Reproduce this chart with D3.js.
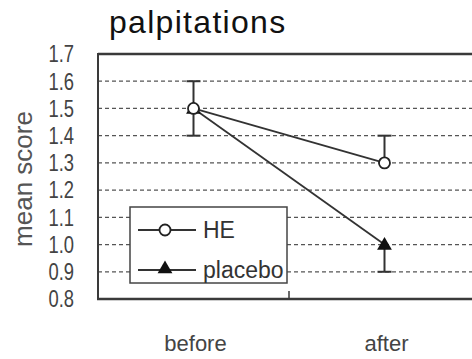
<!DOCTYPE html>
<html lang="en">
<head>
    <meta charset="UTF-8">
    <title>palpitations</title>
    <script src="https://d3js.org/d3.v7.min.js"></script>
    <style>
        body { margin: 0; background: #fff; }
        svg { display: block; }
        .grid line { stroke: #555; stroke-width: 1.3px; stroke-dasharray: 4,3; }
        .frame { stroke: #3a3a3a; fill: none; }
        .tick-label { font-family: "Liberation Sans", Arial, sans-serif; font-size: 23px; fill: #444; }
        .cat-label { font-family: "Liberation Sans", Arial, sans-serif; font-size: 22px; fill: #444; }
    </style>
</head>
<body>
<svg></svg>
<script>
    // data
    const categories = ["before", "after"];
    const heMean = [1.5, 1.3];
    const heErr = [0.1, 0.1];          // drawn upward
    const placeboMean = [1.5, 1.0];
    const placeboErr = [0.1, 0.1];     // drawn downward
    const yTicks = [0.8, 0.9, 1.0, 1.1, 1.2, 1.3, 1.4, 1.5, 1.6, 1.7];
    const legendNames = ["HE", "placebo"];

    const W = 472, H = 359;
    const plotL = 98, plotT = 54, plotB = 299, plotR = 480;

    const svg = d3.select("svg").attr("width", W).attr("height", H);

    const x = d3.scaleBand().domain(categories).range([plotL, plotR]).padding(0);
    const y = d3.scaleLinear().domain([0.8, 1.7]).range([plotB, plotT]);
    const cx = d => x(d) + x.bandwidth() / 2;

    // title
    svg.append("text")
        .attr("x", 109).attr("y", 33)
        .style("font-family", "Liberation Sans, Arial, sans-serif")
        .style("font-size", "32px")
        .style("letter-spacing", "1.3px")
        .style("fill", "#111")
        .text("palpitations");

    // dashed gridlines
    svg.append("g").attr("class", "grid")
        .selectAll("line")
        .data(yTicks.filter(t => t > 0.85 && t < 1.65))
        .enter().append("line")
        .attr("x1", plotL).attr("x2", W)
        .attr("y1", d => y(d)).attr("y2", d => y(d));

    // frame: top, left, bottom
    svg.append("line").attr("class", "frame").attr("stroke-width", 2.5)
        .attr("x1", plotL).attr("x2", W).attr("y1", y(1.7)).attr("y2", y(1.7));
    svg.append("line").attr("class", "frame").attr("stroke-width", 2)
        .attr("x1", plotL).attr("x2", plotL).attr("y1", y(1.7) - 1).attr("y2", y(0.8) + 1);
    svg.append("line").attr("class", "frame").attr("stroke-width", 2.5)
        .attr("x1", plotL - 1).attr("x2", W).attr("y1", y(0.8)).attr("y2", y(0.8));
    // category separator tick
    svg.append("line").attr("class", "frame").attr("stroke-width", 1.5)
        .attr("x1", x("after")).attr("x2", x("after"))
        .attr("y1", y(0.8)).attr("y2", y(0.8) - 8);

    // y tick labels (narrowed glyphs)
    svg.append("g").selectAll("text")
        .data(yTicks)
        .enter().append("text")
        .attr("class", "tick-label")
        .attr("transform", d => `translate(74,${y(d)}) scale(0.8,1)`)
        .attr("dy", "0.36em")
        .attr("text-anchor", "end")
        .text(d => d3.format(".1f")(d));

    // category labels
    svg.append("g").selectAll("text")
        .data(categories)
        .enter().append("text")
        .attr("class", "cat-label")
        .attr("x", d => cx(d) + 2).attr("y", 351)
        .attr("text-anchor", "middle")
        .text(d => d);

    // y axis title
    svg.append("text")
        .attr("transform", "translate(32,179) rotate(-90)")
        .attr("text-anchor", "middle")
        .style("font-family", "Liberation Sans, Arial, sans-serif")
        .style("font-size", "26px")
        .style("fill", "#555")
        .text("mean score");

    // legend box (white, covers gridlines)
    const lg = svg.append("g");
    lg.append("rect")
        .attr("x", 130).attr("y", 207).attr("width", 157).attr("height", 76)
        .attr("fill", "#fff").attr("stroke", "#444").attr("stroke-width", 1.5);

    const lineCol = "#333";
    const line = d3.line().x(d => cx(d.c)).y(d => y(d.v));
    const heData = categories.map((c, i) => ({ c, v: heMean[i] }));
    const plData = categories.map((c, i) => ({ c, v: placeboMean[i] }));
    const tri = d3.symbol().type(d3.symbolTriangle).size(95);

    // error bars
    const capW = 14;
    categories.forEach((c, i) => {
        const up = heMean[i] + heErr[i];
        svg.append("line").attr("stroke", lineCol).attr("stroke-width", 2)
            .attr("x1", cx(c)).attr("x2", cx(c)).attr("y1", y(heMean[i])).attr("y2", y(up));
        svg.append("line").attr("stroke", lineCol).attr("stroke-width", 2)
            .attr("x1", cx(c) - capW / 2).attr("x2", cx(c) + capW / 2).attr("y1", y(up)).attr("y2", y(up));
        const down = placeboMean[i] - placeboErr[i];
        svg.append("line").attr("stroke", lineCol).attr("stroke-width", 2)
            .attr("x1", cx(c)).attr("x2", cx(c)).attr("y1", y(placeboMean[i])).attr("y2", y(down));
        svg.append("line").attr("stroke", lineCol).attr("stroke-width", 2)
            .attr("x1", cx(c) - capW / 2).attr("x2", cx(c) + capW / 2).attr("y1", y(down)).attr("y2", y(down));
    });

    // series lines
    svg.append("path").datum(heData).attr("d", line)
        .attr("fill", "none").attr("stroke", lineCol).attr("stroke-width", 1.8);
    svg.append("path").datum(plData).attr("d", line)
        .attr("fill", "none").attr("stroke", lineCol).attr("stroke-width", 1.8);

    // markers
    svg.selectAll(".tri").data(plData).enter().append("path")
        .attr("d", tri)
        .attr("transform", d => `translate(${cx(d.c)},${y(d.v) + 1})`)
        .attr("fill", "#111");
    svg.selectAll(".circ").data(heData).enter().append("circle")
        .attr("cx", d => cx(d.c)).attr("cy", d => y(d.v)).attr("r", 5.5)
        .attr("fill", "#fff").attr("stroke", "#222").attr("stroke-width", 1.8);

    // legend entries
    const legY = [230, 270];
    legendNames.forEach((name, i) => {
        lg.append("line").attr("stroke", lineCol).attr("stroke-width", 1.8)
            .attr("x1", 138).attr("x2", 196).attr("y1", legY[i]).attr("y2", legY[i]);
        if (i === 0) {
            lg.append("circle").attr("cx", 165).attr("cy", legY[i]).attr("r", 5.5)
                .attr("fill", "#fff").attr("stroke", "#222").attr("stroke-width", 1.8);
        } else {
            lg.append("path").attr("d", tri)
                .attr("transform", `translate(165,${legY[i] - 1})`).attr("fill", "#111");
        }
        lg.append("text")
            .attr("class", "tick-label")
            .attr("x", 203).attr("y", legY[i])
            .attr("dy", "0.36em")
            .style("fill", "#333")
            .text(name);
    });
</script>
</body>
</html>
